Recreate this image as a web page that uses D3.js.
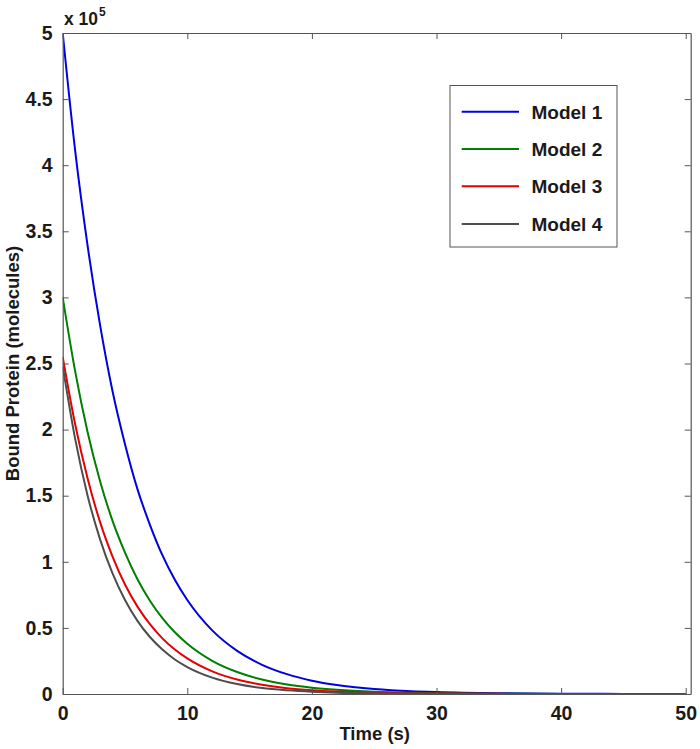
<!DOCTYPE html>
<html><head><meta charset="utf-8">
<script src="https://cdn.jsdelivr.net/npm/d3@7"></script>
<style>body{margin:0;background:#fff}svg{display:block}text{font-family:"Liberation Sans",Arial,sans-serif;font-weight:bold;fill:#1a1a1a}</style>
</head><body>
<script>
const times = [0,1,2,3,4,5,6,7,8,9,10,12,14,16,18,20,22,25,28,30,35,40,45,50];
const model1 = [5.00,4.11,3.39,2.79,2.29,1.89,1.55,1.28,1.05,0.864,0.711,0.481,0.326,0.221,0.150,0.101,0.068,0.038,0.021,0.0145,0.0054,0.002,0.0008,0.0003];
const model2 = [3.00,2.44,1.98,1.61,1.31,1.07,0.868,0.706,0.574,0.467,0.380,0.251,0.166,0.109,0.072,0.048,0.032,0.017,0.0091,0.006,0.0021,0.0008,0.0003,0.0001];
const model3 = [2.55,2.04,1.63,1.30,1.04,0.828,0.661,0.528,0.421,0.336,0.269,0.171,0.109,0.070,0.044,0.028,0.018,0.0092,0.0047,0.003,0.001,0.0003,0.0001,0.00003];
const model4 = [2.48,1.93,1.50,1.17,0.912,0.711,0.553,0.431,0.336,0.261,0.204,0.124,0.075,0.045,0.028,0.017,0.010,0.0048,0.0023,0.0014,0.0004,0.0001,0.00003,0.00001];
const seriesNames = ["Model 1","Model 2","Model 3","Model 4"];
const seriesColors = ["#0000e0","#007f00","#e60000","#4d4d4d"];
const xTicks = [0,10,20,30,40,50];
const yTicks = [0,0.5,1,1.5,2,2.5,3,3.5,4,4.5,5];
const yTickLabels = ["0","0.5","1","1.5","2","2.5","3","3.5","4","4.5","5"];
const series = [model1,model2,model3,model4];

const W=700,H=749;
const L=62.7,R=690.7,T=33,B=694;
const svg=d3.select("body").append("svg").attr("width",W).attr("height",H);
const x=d3.scaleLinear().domain([0,50.4]).range([L,R]);
const y=d3.scaleLinear().domain([0,5]).range([B,T]);
const axisColor="#555";
const tl=6;

// lines
const line=d3.line().x((d,i)=>x(times[i])).y(d=>y(d)).curve(d3.curveMonotoneX);
svg.append("clipPath").attr("id","c").append("rect").attr("x",L).attr("y",T-2).attr("width",R-L).attr("height",B-T+2);
const g=svg.append("g").attr("clip-path","url(#c)");
series.forEach((s,i)=>{
  g.append("path").attr("d",line(s)).attr("fill","none").attr("stroke",seriesColors[i]).attr("stroke-width",2);
});

// axes
const xb=svg.append("g").attr("transform",`translate(0,${B})`).call(d3.axisBottom(x).tickValues(xTicks).tickSizeInner(-tl).tickSizeOuter(0).tickPadding(12).tickFormat(d3.format("d")));
const xt=svg.append("g").attr("transform",`translate(0,${T})`).call(d3.axisTop(x).tickValues(xTicks).tickSizeInner(-tl).tickSizeOuter(0).tickFormat(""));
const yl=svg.append("g").attr("transform",`translate(${L},0)`).call(d3.axisLeft(y).tickValues(yTicks).tickSizeInner(-tl).tickSizeOuter(0).tickPadding(10).tickFormat((d,i)=>yTickLabels[i]));
const yr=svg.append("g").attr("transform",`translate(${R},0)`).call(d3.axisRight(y).tickValues(yTicks).tickSizeInner(-tl).tickSizeOuter(0).tickFormat(""));
[xb,xt,yl,yr].forEach(a=>{
  a.selectAll("path.domain").attr("stroke",axisColor).attr("stroke-width",1.2);
  a.selectAll(".tick line").attr("stroke",axisColor).attr("stroke-width",1);
  a.selectAll(".tick text").attr("font-size",19.5).attr("font-family","Liberation Sans, Arial, sans-serif").attr("font-weight","bold").attr("fill","#1a1a1a");
});
xb.selectAll(".tick text").attr("dy","0.71em");

// exponent label
const ex=svg.append("text").attr("x",64).attr("y",25).attr("font-size",17.5);
ex.append("tspan").text("x 10");
ex.append("tspan").attr("font-size",12).attr("dy",-9).attr("dx",1).text("5");

// axis titles
svg.append("text").attr("x",(L+R)/2-2).attr("y",740).attr("text-anchor","middle").attr("font-size",18.5).text("Time (s)");
svg.append("text").attr("transform",`translate(19,${(T+B)/2}) rotate(-90)`).attr("text-anchor","middle").attr("font-size",18.5).text("Bound Protein (molecules)");

// legend
const lg=svg.append("g");
lg.append("rect").attr("x",450).attr("y",85.5).attr("width",167).attr("height",161.5).attr("fill","#fff").attr("stroke",axisColor).attr("stroke-width",1);
const rowY=[111.7,149,186.3,224];
seriesNames.forEach((n,i)=>{
  lg.append("line").attr("x1",461.7).attr("x2",519).attr("y1",rowY[i]).attr("y2",rowY[i]).attr("stroke",seriesColors[i]).attr("stroke-width",2);
  lg.append("text").attr("x",531.5).attr("y",rowY[i]).attr("dy","0.36em").attr("font-size",19).text(n);
});
</script>
</body></html>
